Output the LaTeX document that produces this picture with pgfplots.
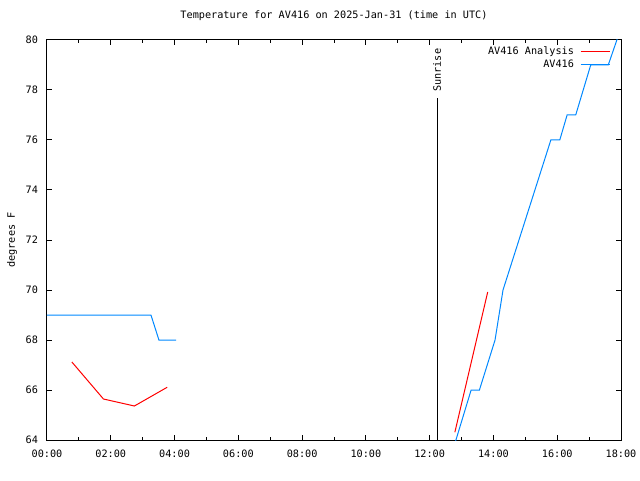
\documentclass[border=0pt]{standalone}
\usepackage{fontspec}
\setmainfont{DejaVu Sans Mono}
\usepackage{pgfplots}
\pgfplotsset{compat=1.18}
\definecolor{avblue}{RGB}{0,136,255}
\definecolor{avred}{RGB}{255,0,0}
\newcommand{\gfont}{\fontsize{10.2pt}{12pt}\selectfont}
\begin{document}
\gfont
\begin{tikzpicture}
\path (-47pt,-40pt) rectangle (593pt,440pt);
\begin{axis}[
  at={(0,0)}, anchor=south west,
  scale only axis, width=574pt, height=400pt,
  xmin=0, xmax=18, ymin=64, ymax=80,
  xtick={0,2,...,18},
  xticklabels={00:00,02:00,04:00,06:00,08:00,10:00,12:00,14:00,16:00,18:00},
  minor xtick={1,3,...,17},
  ytick={64,66,...,80},
  tick align=inside,
  major tick length=5pt, minor tick length=3pt,
  every tick/.style={black, line width=1pt},
  axis line style={black, line width=1pt},
  tick label style={font=\gfont},
  /pgf/number format/assume math mode=true,
  xticklabel style={yshift=-6pt},
  yticklabel style={xshift=-5.5pt},
  ylabel={degrees F},
  ylabel style={font=\gfont, at={(axis description cs:-0.061,0.5)}, anchor=center},
  title={Temperature for AV416 on 2025-Jan-31 (time in UTC)},
  title style={font=\gfont, at={(axis description cs:0.5,1)}, yshift=15.7pt, anchor=base, inner sep=0pt},
  clip=true,
  unbounded coords=jump,
  legend style={draw=none, fill=none, at={(1,1)}, anchor=north east, xshift=-11pt, yshift=-7pt,
    inner sep=0pt, outer sep=0pt,
    nodes={inner sep=0pt, text height=7.5pt, text depth=2pt},
    font=\gfont,
    legend cell align=right, row sep=3.5pt, column sep=6pt},
  legend plot pos=right,
]
\addplot[color=avred, line width=1pt,
  legend image code/.code={\draw[draw=avred, line width=1pt] (0pt,0pt) -- (29pt,0pt);}] coordinates {
(0.78,67.12) (1.77,65.64) (2.74,65.36) (3.77,66.11)
(nan,nan)
(12.79,64.31) (13.82,69.92)
};
\addlegendentry{AV416 Analysis}
\addplot[color=avblue, line width=1pt,
  legend image code/.code={\draw[draw=avblue, line width=1pt] (0pt,0pt) -- (29pt,0pt);}] coordinates {
(0,69) (3.26,69) (3.51,68) (4.05,68)
(nan,nan)
(12.80,63.9) (13.30,66) (13.56,66) (14.05,68) (14.30,70) (15.80,76) (16.08,76) (16.31,77) (16.58,77) (17.05,79) (17.60,79) (17.87,80) (17.95,80.3)
};
\addlegendentry{AV416}
\addplot[black, line width=1pt, forget plot] coordinates {(12.23,64) (12.23,77.68)};
\node[rotate=90, anchor=west, font=\gfont, inner sep=0pt] at (axis cs:12.23,77.92) {Sunrise};
\end{axis}
\end{tikzpicture}
\end{document}
